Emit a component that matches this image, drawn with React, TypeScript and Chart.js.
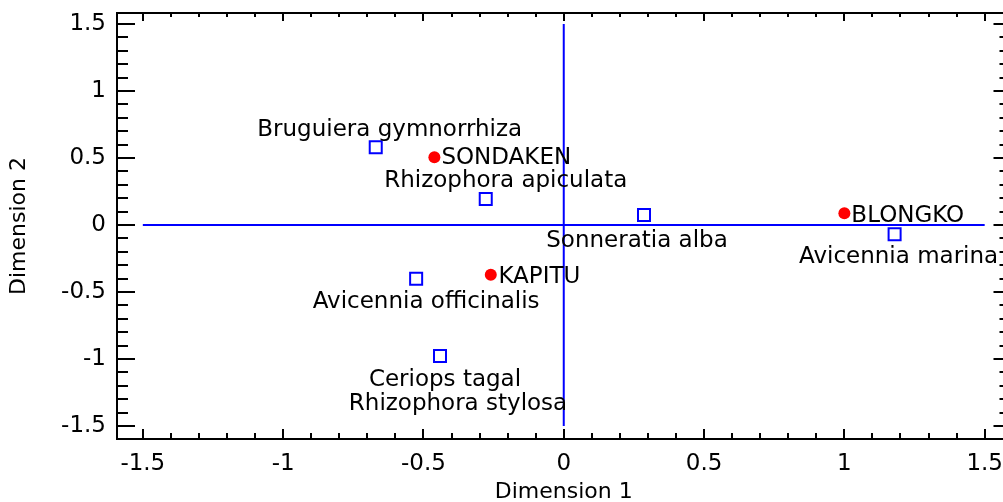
import React, { useEffect, useRef } from 'react';
import { Chart, registerables } from 'chart.js';

Chart.register(...registerables);

// ---- data ----
const siteNames = ['SONDAKEN', 'BLONGKO', 'KAPITU'];
const siteX = [-0.461, 1.0, -0.26];
const siteY = [0.505, 0.087, -0.371];

const speciesNames = [
  'Bruguiera gymnorrhiza',
  'Rhizophora apiculata',
  'Sonneratia alba',
  'Avicennia marina',
  'Avicennia officinalis',
  'Ceriops tagal',
  'Rhizophora stylosa',
];
const speciesX = [-0.67, -0.278, 0.286, 1.179, -0.526, -0.441, -0.441];
const speciesY = [0.58, 0.194, 0.075, -0.069, -0.401, -0.978, -0.978];

const majorTicks = [-1.5, -1, -0.5, 0, 0.5, 1, 1.5];
const tickLabels = ['-1.5', '-1', '-0.5', '0', '0.5', '1', '1.5'];
const crossLineEnds = [-1.5, 1.5];
const xTitle = 'Dimension 1';
const yTitle = 'Dimension 2';

// ---- label placement (pixel offsets from the point, style only) ----
const siteLabelOffset = [
  [7, 7],
  [7, 8.4],
  [7.6, 8.7],
];
const speciesLabelOffset = [
  [14, -11],
  [20, -11.7],
  [-7, 31.7],
  [4, 29],
  [10, 29],
  [5, 30],
  [18, 54],
];

const FONT = "'DejaVu Sans', Verdana, sans-serif";
const CANVAS_W = 1012;
const CANVAS_H = 502;
const AREA = { left: 117, top: 13, right: 1010, bottom: 439 };

function minorValues(min: number, max: number): number[] {
  const out: number[] = [];
  for (let k = Math.ceil(min * 10 - 1e-9); k <= Math.floor(max * 10 + 1e-9); k++) out.push(k / 10);
  return out;
}

function labelFor(v: number): string {
  const i = majorTicks.findIndex((m) => Math.abs(m - v) < 1e-6);
  return i >= 0 ? tickLabels[i] : '';
}

export default function App() {
  const ref = useRef<HTMLCanvasElement | null>(null);

  useEffect(() => {
    document.body.style.margin = '0';
    document.body.style.overflow = 'hidden';
    const canvas = ref.current;
    if (!canvas) return;

    const labelPlugin = {
      id: 'pointLabels',
      afterDatasetsDraw(chart: any) {
        const ctx = chart.ctx;
        ctx.save();
        ctx.fillStyle = '#000';
        ctx.font = `23px ${FONT}`;
        ctx.textBaseline = 'alphabetic';
        const siteMeta = chart.getDatasetMeta(0);
        siteNames.forEach((n, i) => {
          const el = siteMeta.data[i];
          ctx.textAlign = 'left';
          ctx.fillText(n, el.x + siteLabelOffset[i][0], el.y + siteLabelOffset[i][1]);
        });
        const spMeta = chart.getDatasetMeta(1);
        speciesNames.forEach((n, i) => {
          const el = spMeta.data[i];
          ctx.textAlign = 'center';
          ctx.fillText(n, el.x + speciesLabelOffset[i][0], el.y + speciesLabelOffset[i][1]);
        });
        ctx.restore();
      },
    };

    const framePlugin = {
      id: 'frameTicks',
      afterDraw(chart: any) {
        const ctx = chart.ctx;
        const { left, right, top, bottom } = chart.chartArea;
        const xs = chart.scales.x;
        const ys = chart.scales.y;
        ctx.save();
        ctx.strokeStyle = '#000';
        ctx.lineWidth = 2;
        ctx.beginPath();
        ctx.rect(left, top, right - left, bottom - top);
        ctx.stroke();
        ctx.beginPath();
        minorValues(xs.min, xs.max).forEach((v) => {
          const major = labelFor(v) !== '';
          const px = Math.round(xs.getPixelForValue(v));
          ctx.moveTo(px, bottom);
          ctx.lineTo(px, bottom - (major ? 10 : 6));
          ctx.moveTo(px, top);
          ctx.lineTo(px, top + (major ? 8 : 4));
        });
        minorValues(ys.min, ys.max).forEach((v) => {
          const major = labelFor(v) !== '';
          const py = Math.round(ys.getPixelForValue(v));
          ctx.moveTo(left, py);
          ctx.lineTo(left + (major ? 18 : 11), py);
          ctx.moveTo(right, py);
          ctx.lineTo(right - (major ? 17 : 11), py);
        });
        ctx.stroke();
        ctx.restore();
      },
    };

    const chart = new Chart(canvas, {
      type: 'scatter',
      data: {
        datasets: [
          {
            label: 'Sites',
            data: siteX.map((x, i) => ({ x, y: siteY[i] })),
            pointStyle: 'circle',
            pointRadius: 6,
            backgroundColor: '#ff0000',
            borderColor: '#ff0000',
            borderWidth: 0,
            order: 0,
          },
          {
            label: 'Species',
            data: speciesX.map((x, i) => ({ x, y: speciesY[i] })),
            pointStyle: 'rect',
            pointRadius: 8.5,
            backgroundColor: 'rgba(255,255,255,0)',
            borderColor: '#0000ff',
            borderWidth: 2,
            order: 1,
          },
          {
            label: 'h',
            data: crossLineEnds.map((x) => ({ x, y: 0 })),
            showLine: true,
            pointRadius: 0,
            borderColor: '#0000ff',
            borderWidth: 2,
            order: 2,
          },
          {
            label: 'v',
            data: crossLineEnds.map((y) => ({ x: 0, y })),
            showLine: true,
            pointRadius: 0,
            borderColor: '#0000ff',
            borderWidth: 2,
            order: 2,
          },
        ],
      },
      options: {
        responsive: false,
        maintainAspectRatio: false,
        animation: false,
        events: [],
        layout: { padding: { top: 13, right: 2, left: 0, bottom: 0 } },
        plugins: { legend: { display: false }, tooltip: { enabled: false } },
        scales: {
          x: {
            type: 'linear',
            min: -1.592,
            max: 1.592,
            grid: { display: false, drawTicks: false },
            border: { display: false },
            afterBuildTicks: (s: any) => {
              s.ticks = minorValues(s.min, s.max).map((value) => ({ value }));
            },
            afterFit: (s: any) => {
              s.height = CANVAS_H - AREA.bottom;
              s.paddingLeft = 0;
              s.paddingRight = 0;
              s.paddingTop = 0;
              s.paddingBottom = 0;
            },
            ticks: {
              autoSkip: false,
              maxRotation: 0,
              padding: 11,
              color: '#000',
              font: { family: FONT, size: 23 },
              callback: (v: any) => labelFor(Number(v)),
            },
            title: {
              display: true,
              text: xTitle,
              color: '#000',
              font: { family: FONT, size: 22 },
              padding: { top: 0, bottom: -3 },
            },
          },
          y: {
            type: 'linear',
            min: -1.597,
            max: 1.582,
            grid: { display: false, drawTicks: false },
            border: { display: false },
            afterBuildTicks: (s: any) => {
              s.ticks = minorValues(s.min, s.max).map((value) => ({ value }));
            },
            afterFit: (s: any) => {
              s.width = AREA.left;
              s.paddingLeft = 0;
              s.paddingRight = 0;
              s.paddingTop = 0;
              s.paddingBottom = 0;
            },
            ticks: {
              autoSkip: false,
              padding: 11,
              color: '#000',
              font: { family: FONT, size: 23 },
              callback: (v: any) => labelFor(Number(v)),
            },
            title: {
              display: true,
              text: yTitle,
              color: '#000',
              font: { family: FONT, size: 22 },
              padding: { top: 6, bottom: 0 },
            },
          },
        },
      },
      plugins: [labelPlugin, framePlugin],
    });

    // widen the (clipped) canvas until the plot area's right edge sits where the reference has it
    for (let i = 0; i < 5; i++) {
      const dr = AREA.right - chart.chartArea.right;
      if (Math.abs(dr) < 0.3) break;
      chart.resize(Math.round(chart.width + dr), CANVAS_H);
    }

    return () => chart.destroy();
  }, []);

  return (
    <div style={{ width: 1003, height: CANVAS_H, overflow: 'hidden', position: 'relative', background: '#fff' }}>
      <div style={{ width: 1200, height: CANVAS_H, position: 'absolute', left: 0, top: 0 }}>
        <canvas
          ref={ref}
          width={CANVAS_W}
          height={CANVAS_H}
          style={{ display: 'block', width: CANVAS_W, height: CANVAS_H }}
        />
      </div>
    </div>
  );
}
